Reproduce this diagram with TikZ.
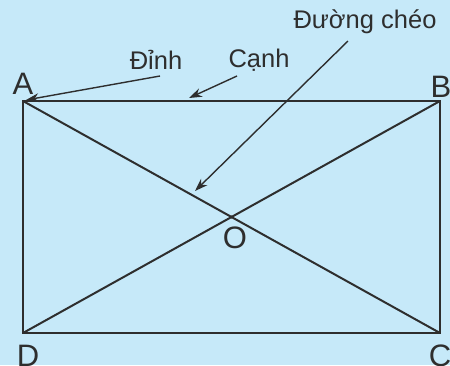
\documentclass[tikz,border=0pt]{standalone}
\usepackage{fontspec}
\setmainfont{Liberation Sans}
\usetikzlibrary{arrows.meta}
\definecolor{bgblue}{HTML}{C6E9F9}
\definecolor{ink}{HTML}{2E2E2E}
\tikzset{
  edge/.style={draw=ink, line width=2pt},
  pointer/.style={draw=ink, line width=1.4pt, -{Stealth[length=13pt,width=9pt]}},
  vlabel/.style={text=ink, font=\fontsize{31}{31}\selectfont, inner sep=0pt},
  tlabel/.style={text=ink, font=\fontsize{25.5}{25.5}\selectfont, inner sep=0pt}
}
\begin{document}
\begin{tikzpicture}[x=1pt,y=-1pt]
\fill[bgblue] (0,0) rectangle (450,365);
\useasboundingbox (0,0) rectangle (450,365);
\coordinate (A) at (23,101);
\coordinate (B) at (440,101);
\coordinate (C) at (440,333);
\coordinate (D) at (23,333);
\draw[edge, line join=miter] (A) -- (B) -- (C) -- (D) -- cycle;
\draw[edge] (A) -- (C);
\draw[edge] (B) -- (D);
\coordinate (O) at (intersection of A--C and B--D);
\fill[ink] (O) circle (1.6pt);
\node[vlabel] (lA) at (23,84) {A};
\node[vlabel] (lB) at (441,87) {B};
\node[vlabel] (lC) at (440,356) {C};
\node[vlabel] (lD) at (28,356) {D};
\node[vlabel] (lO) at (235,238) {O};
\node[tlabel] (tDinh) at (156,60) {Đỉnh};
\node[tlabel] (tCanh) at (259,60) {Cạnh};
\node[tlabel] (tCheo) at (365,22) {Đường chéo};
\coordinate (s1) at (160,76);
\coordinate (s2) at (237,76);
\coordinate (s3) at (348,41);
\coordinate (e1) at (26,100);
\coordinate (e2) at (189,98);
\coordinate (e3) at (195,191);
\draw[pointer] (s1) -- (e1);
\draw[pointer] (s2) -- (e2);
\draw[pointer] (s3) -- (e3);
\end{tikzpicture}
\end{document}
